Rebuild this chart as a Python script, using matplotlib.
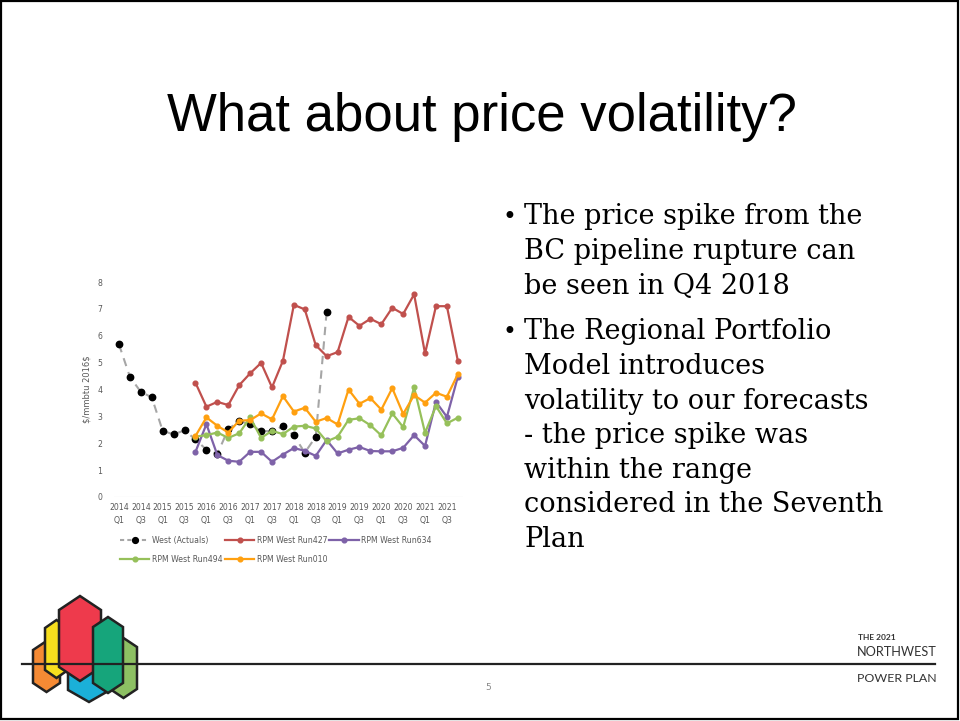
import matplotlib
matplotlib.use("Agg")
import matplotlib.pyplot as plt
from matplotlib.patches import Polygon, Rectangle
from matplotlib.lines import Line2D
import numpy as np

# ---- chart data (quarters 2014 Q1 .. 2021 Q4, index 0..31) ----
tick_labels = ["2014\nQ1", "2014\nQ3", "2015\nQ1", "2015\nQ3", "2016\nQ1", "2016\nQ3",
               "2017\nQ1", "2017\nQ3", "2018\nQ1", "2018\nQ3", "2019\nQ1", "2019\nQ3",
               "2020\nQ1", "2020\nQ3", "2021\nQ1", "2021\nQ3"]
n_quarters = 32
rpm_start = 7   # RPM runs start at 2015 Q4

actuals = [5.68, 4.47, 3.91, 3.71, 2.46, 2.33, 2.48, 2.14, 1.76, 1.60,
           2.53, 2.82, 2.71, 2.45, 2.45, 2.63, 2.29, 1.65, 2.24, 6.90]
run427 = [4.25, 3.36, 3.54, 3.42, 4.16, 4.60, 4.99, 4.08, 5.07, 7.15, 6.98, 5.65, 5.24,
          5.39, 6.70, 6.37, 6.63, 6.43, 7.04, 6.81, 7.54, 5.34, 7.10, 7.10, 5.07]
run634 = [1.68, 2.71, 1.56, 1.35, 1.31, 1.68, 1.68, 1.31, 1.58, 1.82, 1.72, 1.53, 2.12,
          1.62, 1.76, 1.86, 1.71, 1.70, 1.70, 1.83, 2.30, 1.90, 3.54, 2.98, 4.47]
run494 = [2.25, 2.30, 2.40, 2.20, 2.37, 2.96, 2.20, 2.46, 2.34, 2.62, 2.65, 2.55, 2.07,
          2.24, 2.87, 2.93, 2.67, 2.29, 3.11, 2.60, 4.08, 2.39, 3.38, 2.74, 2.95]
run010 = [2.27, 2.96, 2.65, 2.40, 2.84, 2.86, 3.11, 2.89, 3.75, 3.18, 3.32, 2.80, 2.94,
          2.70, 4.00, 3.47, 3.68, 3.25, 4.05, 3.09, 3.79, 3.51, 3.88, 3.73, 4.57]

title = "What about price volatility?"
bullets = [
    ["The price spike from the", "BC pipeline rupture can", "be seen in Q4 2018"],
    ["The Regional Portfolio", "Model introduces", "volatility to our forecasts",
     "- the price spike was", "within the range", "considered in the Seventh", "Plan"],
]

W, H = 960, 721
fig = plt.figure(figsize=(W / 100, H / 100), dpi=100)

# background axes in pixel coordinates
bg = fig.add_axes([0, 0, 1, 1])
bg.set_xlim(0, W)
bg.set_ylim(H, 0)
bg.axis("off")

bg.add_patch(Rectangle((1, 1), W - 3, H - 3, fill=False, ec="black", lw=1.6))
bg.text(482, 117, title, fontsize=38, family="Liberation Sans", ha="center", va="center")

# bullets
y = 217
for group in bullets:
    bg.text(503, y + 1, "\u2022", fontsize=17, family="DejaVu Serif", ha="left", va="center")
    for line in group:
        bg.text(524, y, line, fontsize=19.5, family="DejaVu Serif", ha="left", va="center")
        y += 34.6
    y += 11

# footer line, logo, page number
bg.plot([22, 935], [664, 664], color="#222222", lw=1.6, zorder=5)
bg.text(488, 688, "5", fontsize=6.5, color="#888888", ha="center", va="center")
bg.text(858, 637, "THE 2021", fontsize=6, weight="bold", family="Lato", color="#333333",
        ha="left", va="center")
bg.text(857, 652, "NORTHWEST", fontsize=9.2, family="Lato", color="#333333", ha="left", va="center")
bg.text(857, 679, "POWER PLAN", fontsize=8.9, family="Lato", color="#333333", ha="left", va="center")

def hexagon(x0, x1, ytop, ybot, cut):
    xm = (x0 + x1) / 2
    return [(x0, ytop + cut), (xm, ytop), (x1, ytop + cut),
            (x1, ybot - cut), (xm, ybot), (x0, ybot - cut)]

logo = [
    (hexagon(33, 60, 641, 692, 9), "#F58A34"),
    (hexagon(45, 68, 620, 678, 8), "#F7DF1E"),
    (hexagon(68, 110, 627, 702, 12), "#1BB0D8"),
    (hexagon(59, 101, 596, 681, 14), "#EE3A4C"),
    (hexagon(110, 137, 638, 698, 9), "#8DC063"),
    (hexagon(93, 123, 617, 693, 10), "#16A57B"),
]
for pts, col in logo:
    bg.add_patch(Polygon(pts, closed=True, fc=col, ec="#222222", lw=1.8, zorder=3))

# ---- chart ----
ax_l, ax_r, ax_t, ax_b = 113.5, 463.3, 282, 497
ax = fig.add_axes([ax_l / W, 1 - ax_b / H, (ax_r - ax_l) / W, (ax_b - ax_t) / H])
ax.set_xlim(-0.5, n_quarters - 0.5)
ax.set_ylim(0, 8)
for s in ax.spines.values():
    s.set_visible(False)
ax.axhline(0, color="#D9D9D9", lw=0.8)

x_act = np.arange(len(actuals))
x_rpm = np.arange(rpm_start, rpm_start + len(run427))

ax.plot(x_act, actuals, color="#A6A6A6", lw=1.5, dashes=(4, 3), zorder=1)
ax.plot(x_act, actuals, ls="none", marker="o", ms=4.6, color="black", zorder=1)
series = [(run427, "#C0504D", "RPM West Run427"),
          (run634, "#7E62A8", "RPM West Run634"),
          (run494, "#96C05A", "RPM West Run494"),
          (run010, "#FFA010", "RPM West Run010")]
handles = {}
for vals, col, lab in series:
    handles[lab], = ax.plot(x_rpm, vals, color=col, lw=1.6, marker="o", ms=3.4, zorder=2)

ax.set_xticks(np.arange(0, n_quarters, 2))
ax.set_xticklabels(tick_labels, fontsize=5.6, color="#595959", linespacing=1.6)
ax.set_yticks(range(0, 9))
ax.tick_params(axis="both", length=0, labelsize=5.6, labelcolor="#595959")
ax.tick_params(axis="y", pad=8)
ax.tick_params(axis="x", pad=4)
ax.set_ylabel(r"\$/mmbtu 2016\$", fontsize=6, color="#595959", labelpad=4)

act_handle = Line2D([], [], color="#A6A6A6", lw=1.5, dashes=(2, 1.5), marker="o",
                    ms=4.2, mfc="black", mec="black")
order = [(act_handle, "West (Actuals)"),
         (handles["RPM West Run494"], "RPM West Run494"),
         (handles["RPM West Run427"], "RPM West Run427"),
         (handles["RPM West Run010"], "RPM West Run010"),
         (handles["RPM West Run634"], "RPM West Run634")]
leg = ax.legend([h for h, _ in order], [l for _, l in order], ncol=3, loc="upper left",
                bbox_to_anchor=(0.005, -0.16), frameon=False, fontsize=5.6,
                handlelength=3.8, handletextpad=0.3, columnspacing=0.3, labelspacing=1.25,
                borderaxespad=0.2)
for t in leg.get_texts():
    t.set_color("#595959")

fig.savefig("out.png", dpi=100)
